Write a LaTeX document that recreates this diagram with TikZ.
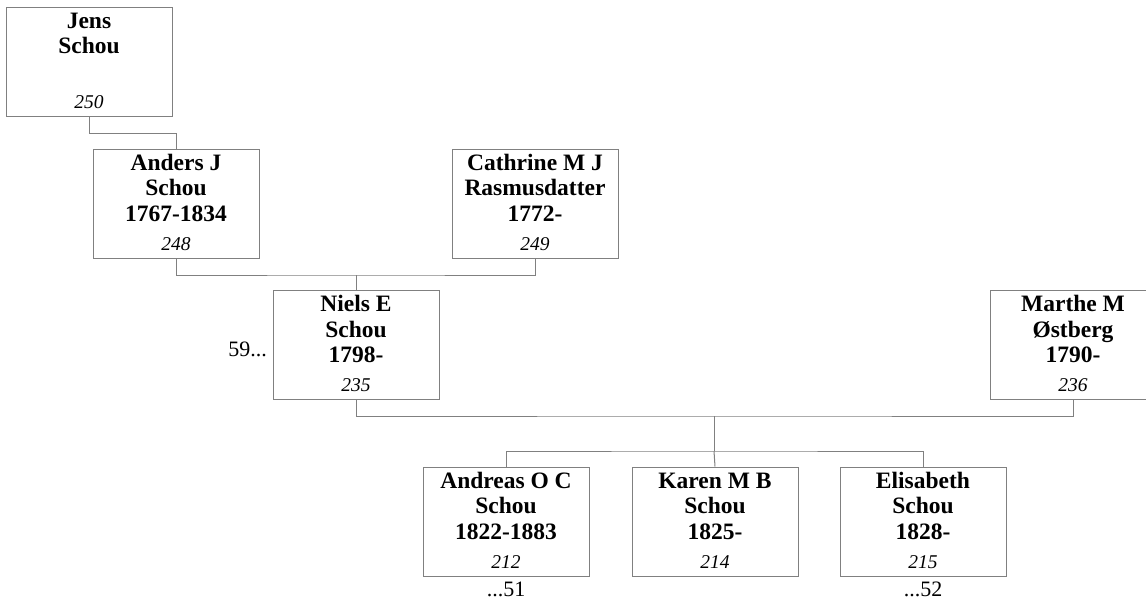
\documentclass[tikz,border=0pt]{standalone}
\usepackage{fontspec}
\setmainfont{Liberation Serif}
\definecolor{lin}{RGB}{128,128,128}
\tikzset{
  pbox/.style={draw=lin, line width=1pt, minimum width=166pt, minimum height=109pt, inner sep=0pt, fill=white},
  nm/.style={font=\fontsize{23.5}{26}\selectfont\bfseries, inner sep=0pt, anchor=base},
  num/.style={font=\fontsize{19.5}{22}\selectfont\itshape, inner sep=0pt, anchor=base},
  ref/.style={font=\fontsize{22}{24}\selectfont, inner sep=0pt},
  conn/.style={draw=lin, line width=1pt},
}
\newcommand\famnode[7]{%
  \node[pbox] (#1) at (#2) {};
  \node[nm] (#1-a) at ([yshift=-21.5pt]#1.north) {#3};
  \node[nm] (#1-b) at ([yshift=-47pt]#1.north) {#4};
  \node[nm] (#1-c) at ([yshift=-72.5pt]#1.north) {#5};
  \node[num] (#1-n) at ([yshift=8.5pt]#1.south) {#6};
}
\begin{document}
\begin{tikzpicture}[x=1pt,y=-1pt]
\useasboundingbox (0,0) rectangle (1146,602);
\clip (0,0) rectangle (1146,602);
\famnode{jens}{89,62}{Jens}{Schou}{}{250}{}
\famnode{anders}{176,203.5}{Anders J}{Schou}{1767-1834}{248}{}
\famnode{cath}{535,203.5}{Cathrine M J}{Rasmusdatter}{1772-}{249}{}
\famnode{niels}{356,345}{Niels E}{Schou}{1798-}{235}{}
\famnode{marthe}{1073,345}{Marthe M}{Østberg}{1790-}{236}{}
\famnode{andreas}{506,521.5}{Andreas O C}{Schou}{1822-1883}{212}{}
\famnode{karen}{715,521.5}{Karen M B}{Schou}{1825-}{214}{}
\famnode{elis}{923,521.5}{Elisabeth}{Schou}{1828-}{215}{}
\node[ref, anchor=base east] (r59) at (267,356) {59...};
\node[ref, anchor=base] (r51) at (506,596) {...51};
\node[ref, anchor=base] (r52) at (923,596) {...52};
\coordinate (j1) at (89,133);
\coordinate (m1) at (356,275);
\coordinate (m2) at (714,416);
\coordinate (c1) at (714,451);
\draw[conn] (jens.south) -- (j1) -| (anders.north);
\draw[conn] (anders.south) |- (m1) -| (cath.south);
\draw[conn] (m1) -- (niels.north);
\draw[conn] (niels.south) |- (m2) -| (marthe.south);
\draw[conn] (m2) -- (c1);
\draw[conn] (andreas.north) |- (c1) -| (elis.north);
\draw[conn] (c1) -- (karen.north);
\end{tikzpicture}
\end{document}
